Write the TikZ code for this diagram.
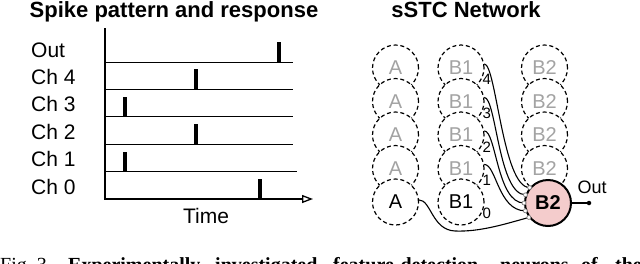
\documentclass[tikz,border=0pt]{standalone}
\usepackage{fontspec}
\setmainfont{Liberation Sans}
\newfontfamily\captionserif{Liberation Serif}
\usepackage{tikz}
\usetikzlibrary{arrows.meta,positioning}
\usepackage{xcolor}
\definecolor{nrnFill}{HTML}{F4CCCC}
\definecolor{nrnGhost}{HTML}{A3A3A3}
\definecolor{nrnSyn}{HTML}{7F7F7F}
\tikzset{
    % neuron styles
    neuron/.style={circle,draw=black,fill=white,dash pattern=on 4pt off 2.8pt,line width=1.2pt,minimum size=46pt,inner sep=0pt,font=\fontsize{20}{24}\selectfont},
    ghost/.style={neuron,text=nrnGhost},
    active/.style={circle,draw=black,fill=nrnFill,line width=2pt,minimum size=46pt,inner sep=0pt,font=\fontsize{20}{24}\selectfont\bfseries},
    syn/.style={circle,draw=nrnSyn,fill=white,line width=0.7pt,minimum size=4pt,inner sep=0pt},
    % connector styles
    wire/.style={line width=1.1pt},
    wlabel/.style={font=\fontsize{15}{17}\selectfont,inner sep=1pt,anchor=west},
    % raster styles
    chlabel/.style={font=\fontsize{21}{24}\selectfont,anchor=base west,inner sep=0pt},
    spike/.style={line width=3.2pt},
    paneltitle/.style={font=\fontsize{22}{24}\selectfont\bfseries,anchor=base,inner sep=0pt}
}

\begin{document}
\begin{tikzpicture}[x=1pt,y=-1pt]
    \useasboundingbox (0,0) rectangle (640,263);
    % Titles
    \node[paneltitle] (ttlSpike) at (174,17) {Spike pattern and response};
    \node[paneltitle] (ttlNet) at (466,17) {sSTC Network};
    % Spike raster
    \coordinate (origin) at (105,199);
    \coordinate (ytop) at (105,28);
    \coordinate (xtip) at (313,199);
    \draw[line width=1.3pt,-{Triangle[open,length=11pt,width=8pt]}] (ytop) -- (origin) -- (xtip);
    \foreach \lbl/\ypos/\sx/\xend [count=\i] in {Out/62/279/293,Ch 4/89.4/196/293,Ch 3/116.8/125/293,Ch 2/144.2/196/293,Ch 1/171.6/125/297,Ch 0/199/260/293}{
        \draw[line width=1pt] (105,\ypos) -- (\xend,\ypos);
        \draw[spike] (\sx,\ypos) -- (\sx,\ypos-20);
        \node[chlabel] (ch\i) at (31,\ypos-5) {\lbl};
    }
    \node[font=\fontsize{21}{24}\selectfont,anchor=base,inner sep=0pt] (tlabel) at (206,223) {Time};
    % Network nodes (top rows faded)
    \foreach \r/\ypos in {4/68,3/101.5,2/135,1/168.5}{
        \node[ghost] (a\r) at (395.5,\ypos) {A};
        \node[ghost] (bone\r) at (461,\ypos) {B1};
        \node[ghost] (btwo\r) at (544.5,\ypos) {B2};
    }
    \node[neuron] (a0) at (395.5,202) {A};
    \node[neuron] (bone0) at (461,202) {B1};
    \node[active] (btwo0) at (548,203) {B2};
    % Synapses on B2
    \coordinate (s4) at (btwo0.140);
    \coordinate (s3) at (btwo0.160);
    \coordinate (s2) at (btwo0.180);
    \coordinate (s1) at (btwo0.199);
    \coordinate (s0) at (btwo0.217);
    \foreach \r in {4,3,2,1}{
        \draw[wire] (bone\r.10) .. controls +(12,0) and +(-27,0) .. (s\r);
        \node[wlabel] (w\r) at (bone\r.-30) {\r};
    }
    \draw[wire] (a0.5) .. controls +(12,0) and (432,230) .. (455,231) .. controls (480,232) and (505,224) .. (s0);
    \node[wlabel] (w0) at (bone0.-30) {0};
    \foreach \r in {4,3,2,1,0}{
        \node[syn] (syn\r) at (s\r) {};
    }
    % Output
    \node[circle,fill=black,minimum size=4.5pt,inner sep=0pt] (outdot) at (589,203) {};
    \draw[line width=1.1pt] (btwo0.east) -- (outdot);
    \node[font=\fontsize{18}{20}\selectfont,anchor=base,inner sep=0pt] (outlbl) at (592,193) {Out};
    % Caption (cut off at the bottom)
    \node[font=\captionserif\fontsize{20}{24}\selectfont,anchor=base west,inner sep=0pt] (capA) at (0,271) {Fig.~3.};
    \node[font=\captionserif\fontsize{20}{24}\selectfont\bfseries,anchor=base west,inner sep=0pt] (capB) at (68,271) {Experimentally};
    \node[font=\captionserif\fontsize{20}{24}\selectfont\bfseries,anchor=base west,inner sep=0pt] (capC) at (215,271) {investigated};
    \node[font=\captionserif\fontsize{20}{24}\selectfont\bfseries,anchor=base west,inner sep=0pt] (capD) at (333,271) {feature-detection};
    \node[font=\captionserif\fontsize{20}{24}\selectfont\bfseries,anchor=base west,inner sep=0pt] (capE) at (500,271) {neurons};
    \node[font=\captionserif\fontsize{20}{24}\selectfont\bfseries,anchor=base west,inner sep=0pt] (capF) at (581,271) {of};
    \node[font=\captionserif\fontsize{20}{24}\selectfont\bfseries,anchor=base west,inner sep=0pt] (capG) at (615,271) {the};
\end{tikzpicture}
\end{document}
